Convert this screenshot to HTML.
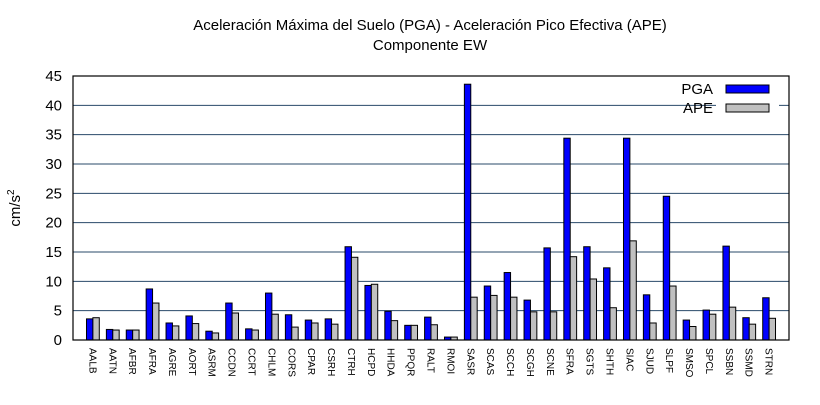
<!DOCTYPE html>
<html><head><meta charset="utf-8"><style>
body{margin:0;background:#fff}
svg text{font-family:"Liberation Sans",sans-serif}
</style></head><body>
<svg id="chart" width="820" height="400" xmlns="http://www.w3.org/2000/svg">
<rect width="820" height="400" fill="#fff"/>
<text x="430" y="30" font-size="15" text-anchor="middle">Aceleración Máxima del Suelo (PGA) -  Aceleración Pico Efectiva (APE)</text>
<text x="430" y="50" font-size="15" text-anchor="middle">Componente EW</text>
<text transform="translate(20,208) rotate(-90)" font-size="15" text-anchor="middle">cm/s<tspan dy="-6" font-size="10">2</tspan></text>
<g id="grid"></g><g id="bars"></g><g id="labels"></g>
<rect x="716" y="100" width="63" height="14" fill="#fff"/>
<text x="713" y="94" font-size="15" text-anchor="end">PGA</text>
<rect x="726" y="85" width="43" height="8" fill="#0000ff" stroke="#000" stroke-width="1"/>
<text x="713" y="113" font-size="15" text-anchor="end">APE</text>
<rect x="726" y="104" width="43" height="8" fill="#c0c0c0" stroke="#000" stroke-width="1"/>
<rect x="73" y="76" width="716" height="264" fill="none" stroke="#000" stroke-width="1.2"/>
</svg>
<script>
const categories=["AALB","AATN","AFBR","AFRA","AGRE","AORT","ASRM","CCDN","CCRT","CHLM","CORS","CPAR","CSRH","CTRH","HCPD","HHDA","PPQR","RALT","RMOI","SASR","SCAS","SCCH","SCGH","SCNE","SFRA","SGTS","SHTH","SIAC","SJUD","SLPF","SMSO","SPCL","SSBN","SSMD","STRN"];
const pga=[3.6,1.8,1.7,8.7,2.9,4.1,1.5,6.3,1.9,8.0,4.3,3.4,3.6,15.9,9.3,4.9,2.5,3.9,0.5,43.6,9.2,11.5,6.8,15.7,34.4,15.9,12.3,34.4,7.7,24.5,3.4,5.1,16.0,3.8,7.2];
const ape=[3.8,1.7,1.7,6.3,2.4,2.8,1.2,4.6,1.7,4.4,2.2,2.9,2.7,14.1,9.5,3.3,2.5,2.6,0.5,7.3,7.6,7.3,4.8,4.8,14.2,10.4,5.5,16.9,2.9,9.2,2.3,4.4,5.6,2.7,3.7];
const yTicks=[0,5,10,15,20,25,30,35,40,45];
const X0=73,X1=789,Y0=340,Y1=76,YMAX=45;
const xs=i=>X0+(i+1)*(X1-X0)/(categories.length+1);
const ys=v=>Y0-v*(Y0-Y1)/YMAX;
const NS="http://www.w3.org/2000/svg";
function mk(t,a,p){const e=document.createElementNS(NS,t);for(const k in a)e.setAttribute(k,a[k]);p.appendChild(e);return e;}
const grid=document.getElementById('grid'),bars=document.getElementById('bars'),labels=document.getElementById('labels');
yTicks.forEach(t=>{
  if(t>0&&t<45){const l=mk('line',{x1:X0,x2:X1,y1:ys(t),y2:ys(t),stroke:'#2a4a6a','stroke-width':1},grid);
  
  }
  const tx=mk('text',{x:62,y:ys(t)+5,'font-size':15,'text-anchor':'end'},labels);
  tx.textContent=t;
  
  
});
const bw=6.4;
categories.forEach((c,i)=>{
  const cx=xs(i);
  const b1=mk('rect',{x:cx-bw,y:ys(pga[i]),width:bw,height:Y0-ys(pga[i]),fill:'#0000ff',stroke:'#000','stroke-width':1},bars);
  
  
  const b2=mk('rect',{x:cx,y:ys(ape[i]),width:bw,height:Y0-ys(ape[i]),fill:'#c0c0c0',stroke:'#000','stroke-width':1},bars);
  
  
  const t=mk('text',{transform:`translate(${cx-3.5},348) rotate(90)`,'font-size':10},labels);
  t.textContent=c;
  
  
});
</script>
</body></html>
